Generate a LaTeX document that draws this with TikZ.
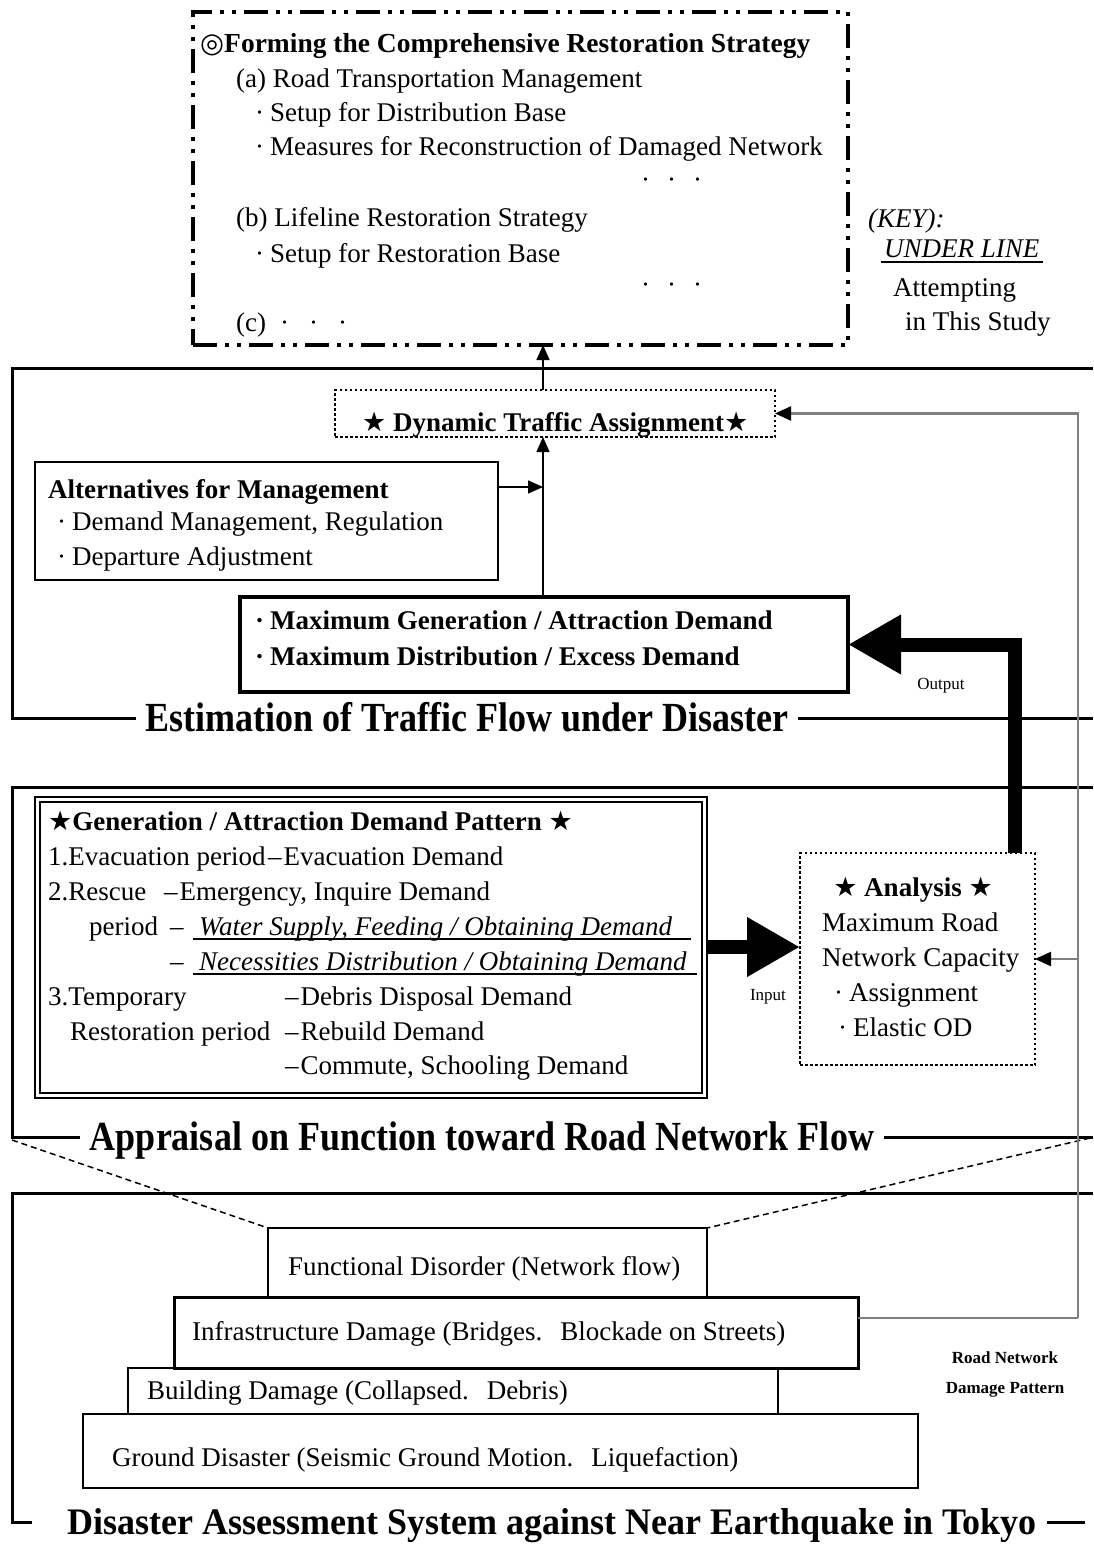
\documentclass[tikz,border=0pt]{standalone}
\usepackage{fontspec}
\usepackage{graphicx}
\setmainfont{Liberation Serif}
\newfontfamily\symf{DejaVu Sans}
\usetikzlibrary{arrows.meta,calc}
\newcommand\fsN{\fontsize{27}{31}\selectfont}
\newcommand\fsT{\fontsize{36}{40}\selectfont}
\newcommand\fsS{\fontsize{17}{20}\selectfont}
\newcommand\stA{{\symf ★}}
\newcommand\tallT[1]{\scalebox{1}[1.15]{#1}}
\begin{document}
\begin{tikzpicture}[x=1pt,y=-1pt,line join=miter]
\tikzset{
  box/.style={draw, inner sep=0pt, outer sep=0pt, anchor=north west},
  frame/.style={line width=3pt},
  tx/.style={anchor=base west, inner sep=0pt, font=\fsN},
  tb/.style={tx, font=\fsN\bfseries},
  ttl/.style={inner xsep=10pt, inner ysep=0pt, text height=27.5pt, text depth=0pt, font=\fsT\bfseries},
  arr/.style={line width=1.5pt, -{Triangle[length=15pt,width=13pt]}},
  fbarr/.style={line width=2.2pt, gray, -{Triangle[length=16pt,width=14pt,color=black]}},
  big/.style={line width=14pt, -{Triangle[length=53pt,width=56pt]}},
  dotbox/.style={box, line width=2.5pt, dash pattern=on 2.5pt off 2.5pt},
  topdash/.style={box, line width=3.5pt, dash pattern=on 24pt off 8pt on 4pt off 8pt on 4pt off 8pt},
  dsh/.style={line width=1.5pt, dash pattern=on 6pt off 4pt},
  small/.style={inner sep=0pt, font=\fsS},
}
\useasboundingbox (0,0) rectangle (1093,1546);
\fill[white] (0,0) rectangle (1093,1546);

% ---------- strategy box ----------
\node[topdash, minimum width=655pt, minimum height=333pt] (strat) at (193,12) {};
\node[tx, font=\fontsize{27.5}{31}\selectfont\bfseries] (s0) at (200,53) {{\symf ◎}Forming the Comprehensive Restoration Strategy};
\node[tx] (s1) at (236,88) {(a) Road Transportation Management};
\node[tx] (s2) at (255,122) {·\hspace{6pt}Setup for Distribution Base};
\node[tx] (s3) at (255,156) {·\hspace{6pt}Measures for Reconstruction of Damaged Network};
\node[tx] (s4) at (641,189) {·\hspace{17pt}·\hspace{17pt}·};
\node[tx] (s5) at (236,227) {(b) Lifeline Restoration Strategy};
\node[tx] (s6) at (255,262) {·\hspace{6pt}Setup for Restoration Base};
\node[tx] (s7) at (641,293) {·\hspace{17pt}·\hspace{17pt}·};
\node[tx] (s8) at (236,331) {(c)\hspace{14pt}·\hspace{20pt}·\hspace{20pt}·};

% ---------- key ----------
\node[tx, font=\fsN\itshape] (k1) at (868,228) {(KEY):};
\node[tx, font=\fsN\itshape] (k2) at (884,258) {UNDER LINE};
\draw[line width=1.2pt] (k2.base west) ++(-3,4) -- ++(162,0);
\node[tx] (k3) at (893,296) {Attempting};
\node[tx] (k4) at (905,330) {in This Study};

% ---------- section 1 ----------
\node[ttl] (t1) at (467,718) {\tallT{Estimation of Traffic Flow under Disaster}};
\draw[frame] (t1.west) -- (12,718) -- (12,368) -- (1093,368);
\draw[frame] (t1.east) -- (1093,718);

\node[dotbox, minimum width=440pt, minimum height=47pt] (dta) at (335,390) {};
\node[tx, font=\fsN\bfseries] (dtat) at (362,431) {\stA\ Dynamic Traffic Assignment\stA};

\node[box, line width=2.5pt, minimum width=463pt, minimum height=118pt] (alt) at (35,462) {};
\node[tb] (a0) at (48,498) {Alternatives for Management};
\node[tx] (a1) at (57,530) {·\hspace{6pt}Demand Management, Regulation};
\node[tx] (a2) at (57,565) {·\hspace{6pt}Departure Adjustment};

\node[box, line width=4.5pt, minimum width=608pt, minimum height=95pt] (maxd) at (240,597) {};
\node[tb] (m1) at (255,629) {·\hspace{6pt}Maximum Generation / Attraction Demand};
\node[tb] (m2) at (255,665) {·\hspace{6pt}Maximum Distribution / Excess Demand};

\coordinate (ax) at (543,0);
\coordinate (aj) at (543,487);
\draw[arr] (dta.north -| ax) -- (strat.south -| ax);
\draw[arr] (maxd.north -| ax) -- (dta.south -| ax);
\draw[arr] (alt.east |- aj) -- (aj);

% ---------- section 2 ----------
\node[ttl] (t2) at (482,1137) {\tallT{Appraisal on Function toward Road Network Flow}};
\draw[frame] (t2.west) -- (12,1137) -- (12,787) -- (1093,787);
\draw[frame] (t2.east) -- (1093,1137);

\node[box, line width=2pt, minimum width=672pt, minimum height=301pt] (gen) at (35,797) {};
\draw[line width=1.5pt] (40,802) rectangle (702,1093);
\node[tb] (g0) at (48,830) {\stA Generation / Attraction Demand Pattern \stA};
\node[tx] (g1a) at (48,865) {1.Evacuation period};
\node[tx] (g1b) at (268,865) {–\hspace{2pt}Evacuation Demand};
\node[tx] (g2a) at (48,900) {2.Rescue};
\node[tx] (g2b) at (164,900) {–\hspace{2pt}Emergency, Inquire Demand};
\node[tx] (g3a) at (89,935) {period};
\node[tx] (g3b) at (170,935) {–};
\node[tx, font=\fsN\itshape] (g3c) at (199,935) {Water Supply, Feeding / Obtaining Demand};
\draw[line width=1.5pt] (193,939) -- (691,939);
\node[tx] (g4b) at (170,970) {–};
\node[tx, font=\fsN\itshape] (g4c) at (199,970) {Necessities Distribution / Obtaining Demand};
\draw[line width=1.5pt] (193,974) -- (697,974);
\node[tx] (g5a) at (48,1005) {3.Temporary};
\node[tx] (g5b) at (285,1005) {–\hspace{2pt}Debris Disposal Demand};
\node[tx] (g6a) at (70,1040) {Restoration period};
\node[tx] (g6b) at (285,1040) {–\hspace{2pt}Rebuild Demand};
\node[tx] (g7b) at (285,1074) {–\hspace{2pt}Commute, Schooling Demand};

\node[dotbox, minimum width=235pt, minimum height=212pt] (ana) at (800,853) {};
\node[tb, anchor=base] (n0) at (913,896) {\stA\ Analysis \stA};
\node[tx] (n1) at (822,931) {Maximum Road};
\node[tx] (n2) at (822,966) {Network Capacity};
\node[tx] (n3) at (834,1001) {·\hspace{6pt}Assignment};
\node[tx] (n4) at (838,1036) {·\hspace{6pt}Elastic OD};

\coordinate (iy) at (0,947);
\draw[big] (gen.east |- iy) -- (ana.west |- iy);
\node[small] (lin) at (768,997) {Input};
\coordinate (oc) at (1015,0);
\draw[big] (ana.north -| oc) |- (maxd.east);
\node[small] (lout) at (941,686) {Output};

% ---------- section 3 ----------
\node[ttl, text height=25pt] (t3) at (552,1522) {\scalebox{1}[1.04]{Disaster Assessment System against Near Earthquake in Tokyo}};
\draw[frame] ([xshift=-25pt]t3.west) -- (12,1522) -- (12,1193) -- (1093,1193);
\draw[frame] (t3.east) -- (1085,1522);

\node[box, line width=1.5pt, minimum width=439pt, minimum height=69pt] (fd) at (268,1228) {};
\node[box, line width=3pt, minimum width=684pt, minimum height=71pt] (inf) at (174,1297) {};
\node[box, line width=2.5pt, minimum width=650pt, minimum height=46pt] (bld) at (128,1368) {};
\node[box, line width=2pt, minimum width=835pt, minimum height=74pt] (grd) at (83,1414) {};
\node[tx] (fdt) at (288,1275) {Functional Disorder (Network flow)};
\node[tx] (inft) at (192,1340) {Infrastructure Damage (Bridges.\hspace{18pt}Blockade on Streets)};
\node[tx] (bldt) at (147,1399) {Building Damage (Collapsed.\hspace{18pt}Debris)};
\node[tx] (grdt) at (112,1466) {Ground Disaster (Seismic Ground Motion.\hspace{18pt}Liquefaction)};

\node[small, font=\fsS\bfseries] (rn1) at (1005,1358) {Road Network};
\node[small, font=\fsS\bfseries] (rn2) at (1005,1390) {Damage Pattern};

% dashed zoom lines
\coordinate (dl) at (12,1140);
\coordinate (dr) at (1090,1138);
\draw[dsh] (dl) -- (fd.north west);
\draw[dsh] (dr) -- (fd.north east);

% feedback line
\coordinate (fbc) at (1078,1318);
\draw[line width=2.2pt, gray] (inf.east |- fbc) -- (fbc);
\draw[fbarr] (fbc) -- (fbc |- dta.east) -- (dta.east);
\draw[fbarr] (fbc |- ana.east) -- (ana.east);
\end{tikzpicture}
\end{document}
